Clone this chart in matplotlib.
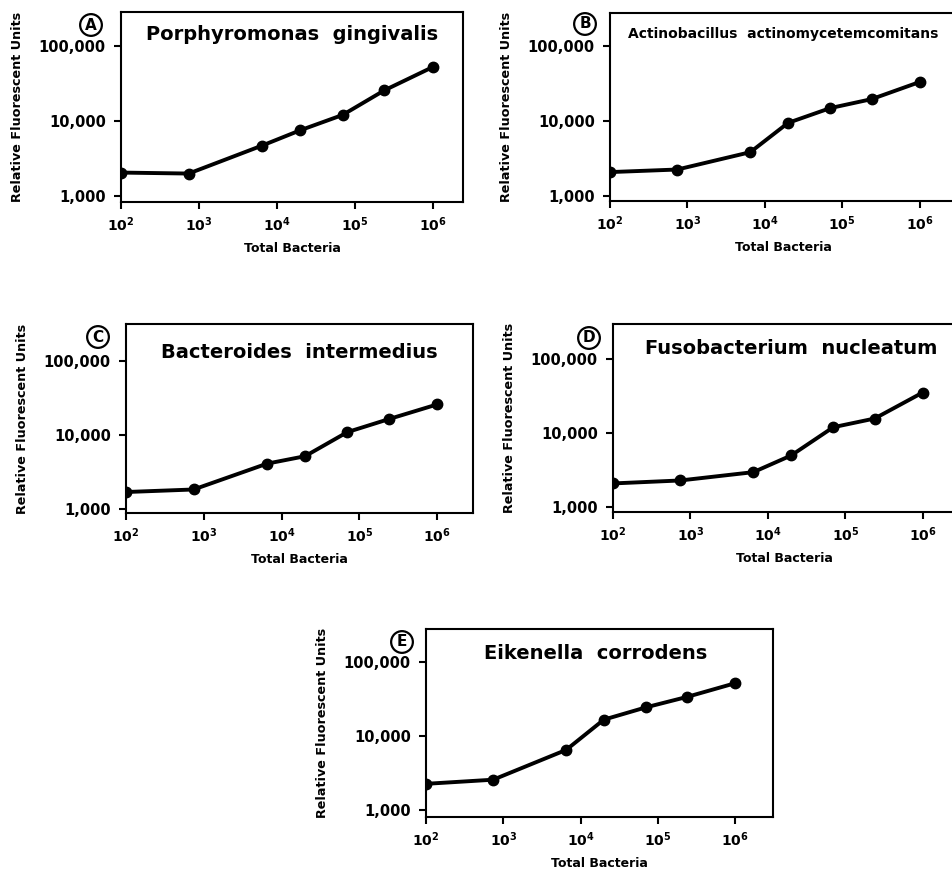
import matplotlib
matplotlib.use("Agg")
import matplotlib.pyplot as plt
from matplotlib.ticker import FixedLocator, FixedFormatter, NullLocator

plt.rcParams['font.family'] = ['DejaVu Sans']
plt.rcParams['font.weight'] = 'bold'
plt.rcParams['mathtext.fontset'] = 'dejavusans'

# ---- data ----
total_bacteria = [100, 740, 6500, 20000, 70000, 240000, 1000000]
pg_rfu = [2050, 1990, 4700, 7500, 12000, 25500, 52000]
aa_rfu = [2070, 2240, 3820, 9400, 14800, 19500, 33000]
bi_rfu = [1710, 1850, 4130, 5200, 11000, 16500, 26000]
fn_rfu = [2070, 2270, 2940, 4940, 11900, 15600, 35000]
ec_rfu = [2260, 2570, 6500, 16700, 24500, 34000, 52000]

panel_letters = ['A', 'B', 'C', 'D', 'E']
panel_titles = ['Porphyromonas  gingivalis',
                'Actinobacillus  actinomycetemcomitans',
                'Bacteroides  intermedius',
                'Fusobacterium  nucleatum',
                'Eikenella  corrodens']
panel_series = [pg_rfu, aa_rfu, bi_rfu, fn_rfu, ec_rfu]

x_ticks = [1e2, 1e3, 1e4, 1e5, 1e6]
x_ticklabels = [r'$\mathbf{10^{2}}$', r'$\mathbf{10^{3}}$', r'$\mathbf{10^{4}}$',
                r'$\mathbf{10^{5}}$', r'$\mathbf{10^{6}}$']
y_ticks = [1000, 10000, 100000]
y_ticklabels = ['1,000', '10,000', '100,000']
xlabel = 'Total Bacteria'
ylabel = 'Relative Fluorescent Units'

# ---- layout (pixels: left, top, right, bottom) ----
W, H = 953, 871
boxes = [(121, 12, 463, 202), (610, 13, 956, 201), (126, 324, 473, 513),
         (613, 324, 956, 512), (426, 629, 773, 817)]
xmax_exp = [6.39, 6.47, 6.46, 6.43, 6.49]
ylims = [(2.92, 5.45), (2.93, 5.44), (2.95, 5.50), (2.93, 5.47), (2.905, 5.45)]
title_pos = [(0.50, 0.88), (0.50, 0.89), (0.50, 0.85), (0.52, 0.87), (0.49, 0.87)]
title_size = [14, 10, 14, 14, 14]
circle_off = [(-30, -13), (-25, -11), (-28, -13), (-24, -14), (-24, -13)]

fig = plt.figure(figsize=(W / 100, H / 100), dpi=100)

for i in range(5):
    l, t, r, b = boxes[i]
    ax = fig.add_axes([l / W, 1 - b / H, (r - l) / W, (b - t) / H])
    ax.plot(total_bacteria, panel_series[i], color='black', lw=2.8,
            marker='o', ms=7.5, mfc='black', mec='black', solid_joinstyle='round')
    ax.set_xscale('log')
    ax.set_yscale('log')
    ax.set_xlim(1e2, 10 ** xmax_exp[i])
    ax.set_ylim(10 ** ylims[i][0], 10 ** ylims[i][1])
    ax.xaxis.set_major_locator(FixedLocator(x_ticks))
    ax.xaxis.set_major_formatter(FixedFormatter(x_ticklabels))
    ax.xaxis.set_minor_locator(NullLocator())
    ax.yaxis.set_major_locator(FixedLocator(y_ticks))
    ax.yaxis.set_major_formatter(FixedFormatter(y_ticklabels))
    ax.yaxis.set_minor_locator(NullLocator())
    ax.tick_params(direction='out', length=5, width=1.5, pad=5)
    ax.tick_params(axis='y', labelsize=10.5, pad=6)
    ax.tick_params(axis='x', labelsize=10, pad=5)
    for lab in ax.get_yticklabels():
        lab.set_fontweight('bold')
    for s in ax.spines.values():
        s.set_linewidth(1.5)
    w = r - l
    hgt = b - t
    ax.set_xlabel(xlabel, fontsize=9, fontweight='bold')
    ax.xaxis.set_label_coords(0.5, -40 / hgt)
    ax.xaxis.label.set_va('top')
    ax.set_ylabel(ylabel, fontsize=9.2, fontweight='bold')
    ax.yaxis.set_label_coords(-97 / w, 0.5)
    ax.text(title_pos[i][0], title_pos[i][1], panel_titles[i], transform=ax.transAxes,
            ha='center', va='center', fontsize=title_size[i], fontweight='bold')
    ax.annotate(panel_letters[i], xy=(0, 1), xycoords='axes fraction',
                xytext=circle_off[i], textcoords='offset pixels',
                ha='center', va='center', fontsize=11, fontweight='bold',
                annotation_clip=False,
                bbox=dict(boxstyle='circle,pad=0.22', fc='white', ec='black', lw=1.6))

fig.savefig('out.png', dpi=100)
